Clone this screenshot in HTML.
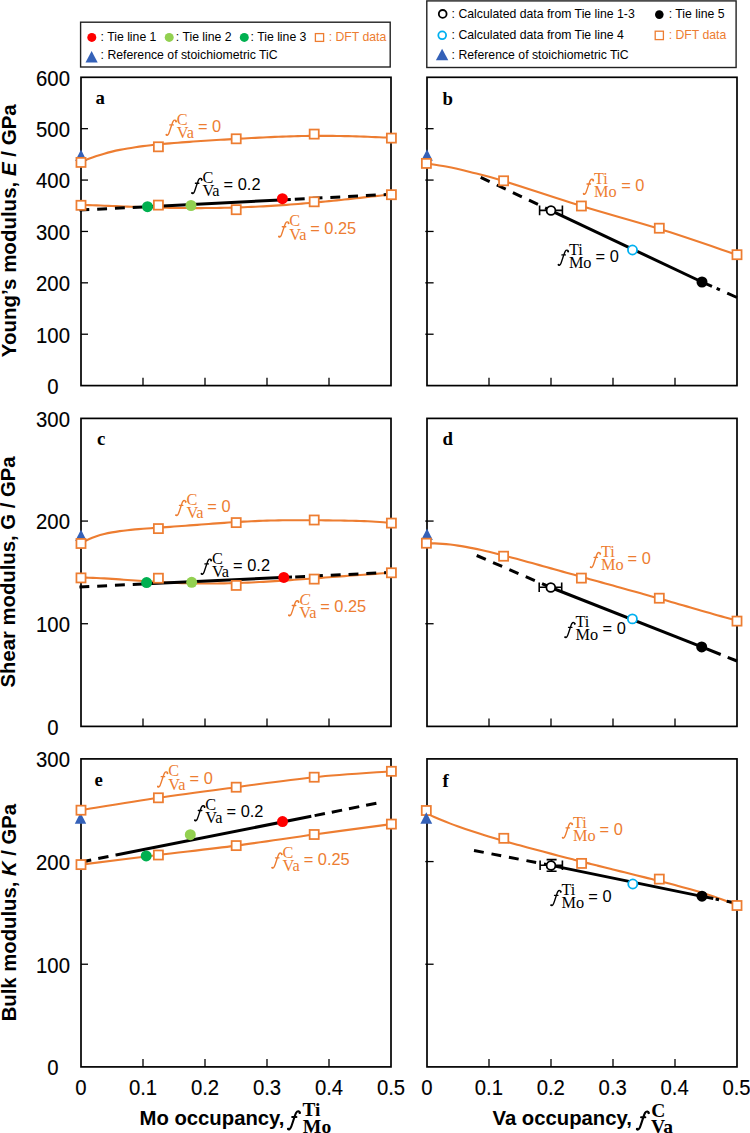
<!DOCTYPE html>
<html><head><meta charset="utf-8"><style>
html,body{margin:0;padding:0;background:#fff;}
svg{display:block;}
.tk{stroke:#000;stroke-width:1.3;}
.fr{fill:none;stroke:#000;stroke-width:1.7;}
.sq{fill:#fff;stroke:#ED7D31;stroke-width:1.75;}
.oc{fill:none;stroke:#ED7D31;stroke-width:2.1;}
.bl{stroke:#000;stroke-width:3;fill:none;}
.dash{stroke-dasharray:9.9 7.9;}
.eb{stroke:#000;stroke-width:1.6;fill:none;}
text{font-family:"Liberation Sans",sans-serif;}
.fi{font-family:"Liberation Serif",serif;font-style:italic;}
.se{font-family:"Liberation Serif",serif;}
.sa{font-family:"Liberation Sans",sans-serif;}
.tl{font-size:20.3px;text-anchor:middle;stroke:#000;stroke-width:0.12px;}
.pl{font-family:"Liberation Serif",serif;font-weight:bold;font-size:18.8px;}
.lg{font-size:12.25px;}
.ax{font-weight:bold;font-size:20.3px;}
</style></head><body>
<svg width="750" height="1133" viewBox="0 0 750 1133">

<rect x="80.6" y="22.2" width="309.6" height="44.8" fill="#fff" stroke="#222" stroke-width="1.4"/>
<circle cx="91.8" cy="37.4" r="4.5" fill="#FF0000"/>
<text x="100.6" y="41.3" class="lg">: Tie line 1</text>
<circle cx="169.2" cy="37.4" r="4.5" fill="#92D050"/>
<text x="175.8" y="41.3" class="lg">: Tie line 2</text>
<circle cx="244.3" cy="37.4" r="4.5" fill="#00B050"/>
<text x="250.6" y="41.3" class="lg">: Tie line 3</text>
<rect x="315.4" y="33.6" width="8.2" height="7.8" fill="#fff" stroke="#ED7D31" stroke-width="1.3"/>
<text x="328.7" y="41.3" class="lg" fill="#ED7D31">: DFT data</text>
<path d="M91.6,50.9 L97.7,62.4 L85.5,62.4 Z" fill="#3461B8"/>
<text x="100.6" y="59.4" class="lg">: Reference of stoichiometric TiC</text>
<rect x="426.8" y="0.9" width="309.3" height="66.6" fill="#fff" stroke="#222" stroke-width="1.4"/>
<circle cx="442.7" cy="13.9" r="3.9" fill="#fff" stroke="#000" stroke-width="1.8"/>
<text x="451.6" y="18.3" class="lg">: Calculated data from Tie line 1-3</text>
<circle cx="659.3" cy="14.6" r="4.3" fill="#000"/>
<text x="668.7" y="18.3" class="lg">: Tie line 5</text>
<circle cx="442.2" cy="35.3" r="3.9" fill="#fff" stroke="#00B0F0" stroke-width="1.8"/>
<text x="451.6" y="38.9" class="lg">: Calculated data from Tie line 4</text>
<rect x="655.2" y="31.2" width="8.2" height="8.4" fill="#fff" stroke="#ED7D31" stroke-width="1.3"/>
<text x="668.7" y="38.9" class="lg" fill="#ED7D31">: DFT data</text>
<path d="M442.1,48.8 L448.3,60.2 L435.9,60.2 Z" fill="#3461B8"/>
<text x="451.6" y="59.3" class="lg">: Reference of stoichiometric TiC</text>
<line x1="81" y1="334.22" x2="88" y2="334.22" class="tk"/>
<line x1="81" y1="282.83" x2="88" y2="282.83" class="tk"/>
<line x1="81" y1="231.45" x2="88" y2="231.45" class="tk"/>
<line x1="81" y1="180.07" x2="88" y2="180.07" class="tk"/>
<line x1="81" y1="128.68" x2="88" y2="128.68" class="tk"/>
<line x1="143" y1="385.6" x2="143" y2="377.8" class="tk"/>
<line x1="205" y1="385.6" x2="205" y2="377.8" class="tk"/>
<line x1="267" y1="385.6" x2="267" y2="377.8" class="tk"/>
<line x1="329" y1="385.6" x2="329" y2="377.8" class="tk"/>
<rect x="81" y="77.3" width="310" height="308.3" class="fr"/>
<line x1="425.3" y1="334.22" x2="433.6" y2="334.22" class="tk"/>
<line x1="425.3" y1="282.83" x2="433.6" y2="282.83" class="tk"/>
<line x1="425.3" y1="231.45" x2="433.6" y2="231.45" class="tk"/>
<line x1="425.3" y1="180.07" x2="433.6" y2="180.07" class="tk"/>
<line x1="425.3" y1="128.68" x2="433.6" y2="128.68" class="tk"/>
<line x1="489" y1="385.6" x2="489" y2="377.8" class="tk"/>
<line x1="551" y1="385.6" x2="551" y2="377.8" class="tk"/>
<line x1="613" y1="385.6" x2="613" y2="377.8" class="tk"/>
<line x1="675" y1="385.6" x2="675" y2="377.8" class="tk"/>
<rect x="427" y="77.3" width="310" height="308.3" class="fr"/>
<text transform="translate(53,394) scale(1,1.06)" class="tl">0</text>
<text transform="translate(53,342.62) scale(1,1.06)" class="tl">100</text>
<text transform="translate(53,291.23) scale(1,1.06)" class="tl">200</text>
<text transform="translate(53,239.85) scale(1,1.06)" class="tl">300</text>
<text transform="translate(53,188.47) scale(1,1.06)" class="tl">400</text>
<text transform="translate(53,137.08) scale(1,1.06)" class="tl">500</text>
<text transform="translate(53,85.7) scale(1,1.06)" class="tl">600</text>
<line x1="81" y1="623.73" x2="88" y2="623.73" class="tk"/>
<line x1="81" y1="521.07" x2="88" y2="521.07" class="tk"/>
<line x1="143" y1="726.4" x2="143" y2="718.6" class="tk"/>
<line x1="205" y1="726.4" x2="205" y2="718.6" class="tk"/>
<line x1="267" y1="726.4" x2="267" y2="718.6" class="tk"/>
<line x1="329" y1="726.4" x2="329" y2="718.6" class="tk"/>
<rect x="81" y="418.4" width="310" height="308" class="fr"/>
<line x1="425.3" y1="623.73" x2="433.6" y2="623.73" class="tk"/>
<line x1="425.3" y1="521.07" x2="433.6" y2="521.07" class="tk"/>
<line x1="489" y1="726.4" x2="489" y2="718.6" class="tk"/>
<line x1="551" y1="726.4" x2="551" y2="718.6" class="tk"/>
<line x1="613" y1="726.4" x2="613" y2="718.6" class="tk"/>
<line x1="675" y1="726.4" x2="675" y2="718.6" class="tk"/>
<rect x="427" y="418.4" width="310" height="308" class="fr"/>
<text transform="translate(53,734.8) scale(1,1.06)" class="tl">0</text>
<text transform="translate(53,632.13) scale(1,1.06)" class="tl">100</text>
<text transform="translate(53,529.47) scale(1,1.06)" class="tl">200</text>
<text transform="translate(53,426.8) scale(1,1.06)" class="tl">300</text>
<line x1="81" y1="964.23" x2="88" y2="964.23" class="tk"/>
<line x1="81" y1="861.57" x2="88" y2="861.57" class="tk"/>
<line x1="143" y1="1066.9" x2="143" y2="1059.1" class="tk"/>
<line x1="205" y1="1066.9" x2="205" y2="1059.1" class="tk"/>
<line x1="267" y1="1066.9" x2="267" y2="1059.1" class="tk"/>
<line x1="329" y1="1066.9" x2="329" y2="1059.1" class="tk"/>
<rect x="81" y="758.9" width="310" height="308" class="fr"/>
<line x1="425.3" y1="964.23" x2="433.6" y2="964.23" class="tk"/>
<line x1="425.3" y1="861.57" x2="433.6" y2="861.57" class="tk"/>
<line x1="489" y1="1066.9" x2="489" y2="1059.1" class="tk"/>
<line x1="551" y1="1066.9" x2="551" y2="1059.1" class="tk"/>
<line x1="613" y1="1066.9" x2="613" y2="1059.1" class="tk"/>
<line x1="675" y1="1066.9" x2="675" y2="1059.1" class="tk"/>
<rect x="427" y="758.9" width="310" height="308" class="fr"/>
<text transform="translate(53,1075.3) scale(1,1.06)" class="tl">0</text>
<text transform="translate(53,972.63) scale(1,1.06)" class="tl">100</text>
<text transform="translate(53,869.97) scale(1,1.06)" class="tl">200</text>
<text transform="translate(53,767.3) scale(1,1.06)" class="tl">300</text>
<text transform="translate(81,1095.2) scale(1,1.06)" class="tl">0</text>
<text transform="translate(427,1095.2) scale(1,1.06)" class="tl">0</text>
<text transform="translate(143,1095.2) scale(1,1.06)" class="tl">0.1</text>
<text transform="translate(488.9,1095.2) scale(1,1.06)" class="tl">0.1</text>
<text transform="translate(205,1095.2) scale(1,1.06)" class="tl">0.2</text>
<text transform="translate(550.8,1095.2) scale(1,1.06)" class="tl">0.2</text>
<text transform="translate(267,1095.2) scale(1,1.06)" class="tl">0.3</text>
<text transform="translate(612.7,1095.2) scale(1,1.06)" class="tl">0.3</text>
<text transform="translate(329,1095.2) scale(1,1.06)" class="tl">0.4</text>
<text transform="translate(674.6,1095.2) scale(1,1.06)" class="tl">0.4</text>
<text transform="translate(391,1095.2) scale(1,1.06)" class="tl">0.5</text>
<text transform="translate(736.5,1095.2) scale(1,1.06)" class="tl">0.5</text>
<text x="95.5" y="103.5" class="pl">a</text>
<text x="442.5" y="104.8" class="pl">b</text>
<text x="97" y="444.5" class="pl">c</text>
<text x="442.5" y="444.9" class="pl">d</text>
<text x="94.5" y="785.6" class="pl">e</text>
<text x="442.5" y="786.5" class="pl">f</text>
<text transform="translate(16.2,230.7) rotate(-90)" text-anchor="middle" class="ax" style="font-size:20.5px">Young’s modulus, <tspan font-style="italic">E</tspan> / GPa</text>
<text transform="translate(15.3,572) rotate(-90)" text-anchor="middle" class="ax">Shear modulus, G / GPa</text>
<text transform="translate(15.9,912.6) rotate(-90)" text-anchor="middle" class="ax">Bulk modulus, <tspan font-style="italic">K</tspan> / GPa</text>
<text x="139.5" y="1125" class="ax">Mo occupancy,</text>
<g transform="translate(287.4,1125.3) scale(1.2)"><path d="M10.3,-10.4 C10.3,-11.7 8.5,-12.4 7.3,-10.5 C6.3,-8.8 4.3,-1.6 3.0,1.6 C2.3,3.3 1.1,3.9 0.5,3.0 M4.0,-6.9 H7.5" fill="none" stroke="#000" stroke-width="1.75" stroke-linecap="round"/><circle cx="10.25" cy="-10.35" r="0.95" fill="#000"/><circle cx="0.7" cy="2.85" r="0.9" fill="#000"/></g>
<text x="302.6" y="1116.2" style="font-family:'Liberation Serif',serif;font-weight:bold;font-size:19.3px">Ti</text>
<text x="302.8" y="1132.8" style="font-family:'Liberation Serif',serif;font-weight:bold;font-size:19.7px">Mo</text>
<text x="492.5" y="1125" class="ax">Va occupancy,</text>
<g transform="translate(636.3,1125.5) scale(1.2)"><path d="M10.3,-10.4 C10.3,-11.7 8.5,-12.4 7.3,-10.5 C6.3,-8.8 4.3,-1.6 3.0,1.6 C2.3,3.3 1.1,3.9 0.5,3.0 M4.0,-6.9 H7.5" fill="none" stroke="#000" stroke-width="1.75" stroke-linecap="round"/><circle cx="10.25" cy="-10.35" r="0.95" fill="#000"/><circle cx="0.7" cy="2.85" r="0.9" fill="#000"/></g>
<text x="651.2" y="1116.7" style="font-family:'Liberation Serif',serif;font-weight:bold;font-size:19.5px">C</text>
<text x="651" y="1133" style="font-family:'Liberation Serif',serif;font-weight:bold;font-size:19.5px">Va</text>
<path d="M81,162.08 C82.29,161.54 86.17,159.83 88.75,158.82 C91.33,157.81 93.92,156.89 96.5,156.02 C99.08,155.16 101.67,154.38 104.25,153.64 C106.83,152.91 109.42,152.25 112,151.62 C114.58,151 117.17,150.43 119.75,149.9 C122.33,149.37 124.92,148.89 127.5,148.43 C130.08,147.98 132.67,147.57 135.25,147.18 C137.83,146.8 140.42,146.44 143,146.11 C145.58,145.77 148.17,145.47 150.75,145.18 C153.33,144.89 155.92,144.62 158.5,144.36 C161.08,144.1 163.67,143.87 166.25,143.64 C168.83,143.41 171.42,143.19 174,142.98 C176.58,142.78 179.17,142.58 181.75,142.38 C184.33,142.19 186.92,142.01 189.5,141.83 C192.08,141.64 194.67,141.47 197.25,141.3 C199.83,141.12 202.42,140.95 205,140.79 C207.58,140.62 210.17,140.46 212.75,140.29 C215.33,140.13 217.92,139.97 220.5,139.82 C223.08,139.66 225.67,139.5 228.25,139.35 C230.83,139.19 233.42,139.04 236,138.89 C238.58,138.74 241.17,138.6 243.75,138.45 C246.33,138.31 248.92,138.17 251.5,138.03 C254.08,137.89 256.67,137.76 259.25,137.63 C261.83,137.5 264.42,137.37 267,137.25 C269.58,137.13 272.17,137.02 274.75,136.91 C277.33,136.8 279.92,136.7 282.5,136.61 C285.08,136.51 287.67,136.42 290.25,136.35 C292.83,136.27 295.42,136.2 298,136.13 C300.58,136.07 303.17,136.02 305.75,135.98 C308.33,135.93 310.92,135.9 313.5,135.87 C316.08,135.85 318.67,135.84 321.25,135.83 C323.83,135.83 326.42,135.84 329,135.85 C331.58,135.87 334.17,135.9 336.75,135.93 C339.33,135.97 341.92,136.02 344.5,136.08 C347.08,136.13 349.67,136.2 352.25,136.27 C354.83,136.35 357.42,136.43 360,136.52 C362.58,136.61 365.17,136.71 367.75,136.81 C370.33,136.91 372.92,137.01 375.5,137.12 C378.08,137.23 380.67,137.34 383.25,137.45 C385.83,137.56 389.71,137.72 391,137.77" class="oc"/>
<path d="M81,204.83 C82.29,204.87 86.17,205.01 88.75,205.1 C91.33,205.2 93.92,205.3 96.5,205.4 C99.08,205.5 101.67,205.6 104.25,205.7 C106.83,205.8 109.42,205.9 112,206 C114.58,206.11 117.17,206.21 119.75,206.31 C122.33,206.4 124.92,206.5 127.5,206.6 C130.08,206.69 132.67,206.79 135.25,206.88 C137.83,206.97 140.42,207.05 143,207.14 C145.58,207.22 148.17,207.3 150.75,207.37 C153.33,207.45 155.92,207.52 158.5,207.58 C161.08,207.65 163.67,207.71 166.25,207.76 C168.83,207.81 171.42,207.86 174,207.9 C176.58,207.94 179.17,207.98 181.75,208.01 C184.33,208.04 186.92,208.06 189.5,208.07 C192.08,208.09 194.67,208.09 197.25,208.09 C199.83,208.09 202.42,208.09 205,208.07 C207.58,208.05 210.17,208.03 212.75,208 C215.33,207.97 217.92,207.93 220.5,207.88 C223.08,207.83 225.67,207.78 228.25,207.71 C230.83,207.65 233.42,207.58 236,207.5 C238.58,207.41 241.17,207.32 243.75,207.23 C246.33,207.13 248.92,207.02 251.5,206.91 C254.08,206.79 256.67,206.67 259.25,206.54 C261.83,206.4 264.42,206.26 267,206.12 C269.58,205.97 272.17,205.81 274.75,205.65 C277.33,205.48 279.92,205.31 282.5,205.13 C285.08,204.95 287.67,204.76 290.25,204.57 C292.83,204.37 295.42,204.17 298,203.96 C300.58,203.75 303.17,203.53 305.75,203.31 C308.33,203.09 310.92,202.86 313.5,202.62 C316.08,202.38 318.67,202.14 321.25,201.89 C323.83,201.65 326.42,201.39 329,201.13 C331.58,200.88 334.17,200.61 336.75,200.35 C339.33,200.08 341.92,199.81 344.5,199.53 C347.08,199.26 349.67,198.98 352.25,198.7 C354.83,198.41 357.42,198.13 360,197.84 C362.58,197.56 365.17,197.27 367.75,196.98 C370.33,196.69 372.92,196.4 375.5,196.11 C378.08,195.82 380.67,195.52 383.25,195.23 C385.83,194.94 389.71,194.51 391,194.37" class="oc"/>
<line x1="79.4" y1="210.08" x2="147.5" y2="206.64" class="bl dash"/>
<line x1="147.5" y1="206.64" x2="290.8" y2="199.41" class="bl"/>
<line x1="290.8" y1="199.41" x2="391" y2="194.35" class="bl dash" style="stroke-dashoffset:13.8;"/>
<path d="M81,149.5 L86.8,161 L75.2,161 Z" fill="#3461B8"/>
<rect x="76.45" y="157.85" width="9.1" height="9.1" class="sq"/>
<rect x="153.85" y="142.25" width="9.1" height="9.1" class="sq"/>
<rect x="231.65" y="134.25" width="9.1" height="9.1" class="sq"/>
<rect x="309.65" y="129.55" width="9.1" height="9.1" class="sq"/>
<rect x="386.85" y="133.55" width="9.1" height="9.1" class="sq"/>
<rect x="76.45" y="200.75" width="9.1" height="9.1" class="sq"/>
<rect x="153.85" y="200.55" width="9.1" height="9.1" class="sq"/>
<rect x="231.65" y="205.15" width="9.1" height="9.1" class="sq"/>
<rect x="309.65" y="197.25" width="9.1" height="9.1" class="sq"/>
<rect x="386.85" y="190.15" width="9.1" height="9.1" class="sq"/>
<circle cx="147.5" cy="206.7" r="5.5" fill="#00B050"/>
<circle cx="191" cy="205.5" r="5.5" fill="#92D050"/>
<circle cx="282.4" cy="198.7" r="5.5" fill="#FF0000"/>
<g transform="translate(165.8,131.8) scale(1)"><path d="M10.3,-10.4 C10.3,-11.7 8.5,-12.4 7.3,-10.5 C6.3,-8.8 4.3,-1.6 3.0,1.6 C2.3,3.3 1.1,3.9 0.5,3.0 M4.0,-6.9 H7.5" fill="none" stroke="#ED7D31" stroke-width="1.35" stroke-linecap="round"/><circle cx="10.25" cy="-10.35" r="0.95" fill="#ED7D31"/><circle cx="0.7" cy="2.85" r="0.9" fill="#ED7D31"/></g>
<g fill="#ED7D31">
<text x="176.8" y="124.6" class="se" style="font-size:16.3px">C</text>
<text x="176.8" y="137.8" class="se" style="font-size:16.3px">Va</text>
<text x="197.9" y="131.8" class="sa" style="font-size:16.4px">= 0</text>
</g>
<g transform="translate(191.4,190.1) scale(1)"><path d="M10.3,-10.4 C10.3,-11.7 8.5,-12.4 7.3,-10.5 C6.3,-8.8 4.3,-1.6 3.0,1.6 C2.3,3.3 1.1,3.9 0.5,3.0 M4.0,-6.9 H7.5" fill="none" stroke="#000" stroke-width="1.35" stroke-linecap="round"/><circle cx="10.25" cy="-10.35" r="0.95" fill="#000"/><circle cx="0.7" cy="2.85" r="0.9" fill="#000"/></g>
<g fill="#000">
<text x="202.4" y="182.9" class="se" style="font-size:16.3px">C</text>
<text x="202.4" y="196.1" class="se" style="font-size:16.3px">Va</text>
<text x="223.6" y="190.1" class="sa" style="font-size:16.4px">= 0.2</text>
</g>
<g transform="translate(278.3,233.6) scale(1)"><path d="M10.3,-10.4 C10.3,-11.7 8.5,-12.4 7.3,-10.5 C6.3,-8.8 4.3,-1.6 3.0,1.6 C2.3,3.3 1.1,3.9 0.5,3.0 M4.0,-6.9 H7.5" fill="none" stroke="#ED7D31" stroke-width="1.35" stroke-linecap="round"/><circle cx="10.25" cy="-10.35" r="0.95" fill="#ED7D31"/><circle cx="0.7" cy="2.85" r="0.9" fill="#ED7D31"/></g>
<g fill="#ED7D31">
<text x="289.3" y="226.4" class="se" style="font-size:16.3px">C</text>
<text x="289.3" y="239.6" class="se" style="font-size:16.3px">Va</text>
<text x="310.2" y="233.6" class="sa" style="font-size:16.4px">= 0.25</text>
</g>
<path d="M426.4,163.4 C429.67,163.92 438.73,165.07 446,166.5 C453.27,167.93 460.4,169.58 470,172 C479.6,174.42 485.03,175.33 503.6,181 C522.17,186.67 555.45,198.03 581.4,206 C607.35,213.97 633.37,220.67 659.3,228.8 C685.23,236.93 724.05,250.47 737,254.8" class="oc"/>
<line x1="480.7" y1="177.4" x2="551" y2="210.6" class="bl dash"/>
<line x1="551" y1="210.6" x2="702" y2="282" class="bl"/>
<line x1="702" y1="282" x2="737" y2="297.5" class="bl dash" style="stroke-dasharray:10.9 5.1 3.6 8 30;"/>
<path d="M427,149.2 L432.8,160.7 L421.2,160.7 Z" fill="#3461B8"/>
<rect x="421.85" y="158.85" width="9.1" height="9.1" class="sq"/>
<rect x="499.05" y="176.25" width="9.1" height="9.1" class="sq"/>
<rect x="576.85" y="201.45" width="9.1" height="9.1" class="sq"/>
<rect x="654.75" y="223.65" width="9.1" height="9.1" class="sq"/>
<rect x="732.45" y="250.15" width="9.1" height="9.1" class="sq"/>
<path d="M539.6,210.4 H562.4 M539.6,205.6 V215.2 M562.4,205.6 V215.2" class="eb"/>
<circle cx="551" cy="210.5" r="4.4" fill="#fff" stroke="#000" stroke-width="1.75"/>
<circle cx="632.5" cy="250" r="4.55" fill="#fff" stroke="#00B0F0" stroke-width="1.8"/>
<circle cx="702" cy="282" r="5.5" fill="#000"/>
<g transform="translate(583,190.9) scale(1)"><path d="M10.3,-10.4 C10.3,-11.7 8.5,-12.4 7.3,-10.5 C6.3,-8.8 4.3,-1.6 3.0,1.6 C2.3,3.3 1.1,3.9 0.5,3.0 M4.0,-6.9 H7.5" fill="none" stroke="#ED7D31" stroke-width="1.35" stroke-linecap="round"/><circle cx="10.25" cy="-10.35" r="0.95" fill="#ED7D31"/><circle cx="0.7" cy="2.85" r="0.9" fill="#ED7D31"/></g>
<g fill="#ED7D31">
<text x="594" y="183.7" class="se" style="font-size:16.3px">Ti</text>
<text x="594" y="196.9" class="se" style="font-size:16.3px">Mo</text>
<text x="621.2" y="190.9" class="sa" style="font-size:16.4px">= 0</text>
</g>
<g transform="translate(557.9,261.8) scale(1)"><path d="M10.3,-10.4 C10.3,-11.7 8.5,-12.4 7.3,-10.5 C6.3,-8.8 4.3,-1.6 3.0,1.6 C2.3,3.3 1.1,3.9 0.5,3.0 M4.0,-6.9 H7.5" fill="none" stroke="#000" stroke-width="1.35" stroke-linecap="round"/><circle cx="10.25" cy="-10.35" r="0.95" fill="#000"/><circle cx="0.7" cy="2.85" r="0.9" fill="#000"/></g>
<g fill="#000">
<text x="568.9" y="254.6" class="se" style="font-size:16.3px">Ti</text>
<text x="568.9" y="267.8" class="se" style="font-size:16.3px">Mo</text>
<text x="595.6" y="261.8" class="sa" style="font-size:16.4px">= 0</text>
</g>
<path d="M81,543.01 C82.29,542.37 86.17,540.3 88.75,539.17 C91.33,538.04 93.92,537.11 96.5,536.25 C99.08,535.4 101.67,534.69 104.25,534.05 C106.83,533.41 109.42,532.88 112,532.39 C114.58,531.91 117.17,531.51 119.75,531.14 C122.33,530.77 124.92,530.46 127.5,530.17 C130.08,529.88 132.67,529.64 135.25,529.4 C137.83,529.17 140.42,528.96 143,528.76 C145.58,528.55 148.17,528.37 150.75,528.18 C153.33,528 155.92,527.82 158.5,527.64 C161.08,527.46 163.67,527.28 166.25,527.1 C168.83,526.92 171.42,526.74 174,526.56 C176.58,526.37 179.17,526.19 181.75,526 C184.33,525.81 186.92,525.61 189.5,525.42 C192.08,525.22 194.67,525.03 197.25,524.83 C199.83,524.63 202.42,524.44 205,524.24 C207.58,524.04 210.17,523.85 212.75,523.66 C215.33,523.47 217.92,523.28 220.5,523.09 C223.08,522.91 225.67,522.73 228.25,522.56 C230.83,522.39 233.42,522.22 236,522.07 C238.58,521.91 241.17,521.76 243.75,521.63 C246.33,521.49 248.92,521.36 251.5,521.24 C254.08,521.12 256.67,521.01 259.25,520.92 C261.83,520.82 264.42,520.73 267,520.66 C269.58,520.58 272.17,520.52 274.75,520.46 C277.33,520.4 279.92,520.36 282.5,520.32 C285.08,520.28 287.67,520.26 290.25,520.24 C292.83,520.22 295.42,520.21 298,520.2 C300.58,520.19 303.17,520.2 305.75,520.2 C308.33,520.21 310.92,520.22 313.5,520.24 C316.08,520.25 318.67,520.28 321.25,520.3 C323.83,520.32 326.42,520.35 329,520.38 C331.58,520.41 334.17,520.44 336.75,520.48 C339.33,520.52 341.92,520.56 344.5,520.61 C347.08,520.65 349.67,520.7 352.25,520.76 C354.83,520.83 357.42,520.89 360,520.98 C362.58,521.06 365.17,521.15 367.75,521.27 C370.33,521.39 372.92,521.52 375.5,521.69 C378.08,521.87 380.67,522.06 383.25,522.3 C385.83,522.55 389.71,523.02 391,523.17" class="oc"/>
<path d="M81,577.52 C82.29,577.55 86.17,577.61 88.75,577.69 C91.33,577.77 93.92,577.88 96.5,578 C99.08,578.12 101.67,578.26 104.25,578.41 C106.83,578.56 109.42,578.72 112,578.89 C114.58,579.06 117.17,579.24 119.75,579.42 C122.33,579.6 124.92,579.78 127.5,579.97 C130.08,580.15 132.67,580.34 135.25,580.52 C137.83,580.7 140.42,580.88 143,581.06 C145.58,581.23 148.17,581.4 150.75,581.57 C153.33,581.73 155.92,581.89 158.5,582.03 C161.08,582.18 163.67,582.32 166.25,582.45 C168.83,582.58 171.42,582.69 174,582.8 C176.58,582.91 179.17,583 181.75,583.09 C184.33,583.17 186.92,583.24 189.5,583.3 C192.08,583.36 194.67,583.41 197.25,583.44 C199.83,583.48 202.42,583.5 205,583.51 C207.58,583.52 210.17,583.52 212.75,583.5 C215.33,583.49 217.92,583.46 220.5,583.42 C223.08,583.38 225.67,583.33 228.25,583.27 C230.83,583.21 233.42,583.14 236,583.05 C238.58,582.97 241.17,582.88 243.75,582.77 C246.33,582.67 248.92,582.56 251.5,582.44 C254.08,582.32 256.67,582.19 259.25,582.05 C261.83,581.91 264.42,581.77 267,581.62 C269.58,581.46 272.17,581.31 274.75,581.14 C277.33,580.98 279.92,580.81 282.5,580.64 C285.08,580.46 287.67,580.29 290.25,580.11 C292.83,579.93 295.42,579.74 298,579.55 C300.58,579.37 303.17,579.18 305.75,578.99 C308.33,578.8 310.92,578.61 313.5,578.41 C316.08,578.22 318.67,578.03 321.25,577.83 C323.83,577.64 326.42,577.45 329,577.26 C331.58,577.06 334.17,576.87 336.75,576.68 C339.33,576.49 341.92,576.3 344.5,576.11 C347.08,575.92 349.67,575.73 352.25,575.54 C354.83,575.35 357.42,575.16 360,574.98 C362.58,574.79 365.17,574.6 367.75,574.42 C370.33,574.23 372.92,574.04 375.5,573.85 C378.08,573.66 380.67,573.48 383.25,573.28 C385.83,573.09 389.71,572.8 391,572.7" class="oc"/>
<line x1="79.4" y1="586.97" x2="146.6" y2="583.83" class="bl dash"/>
<line x1="146.6" y1="583.83" x2="292" y2="577.03" class="bl"/>
<line x1="292" y1="577.03" x2="391" y2="572.4" class="bl dash" style="stroke-dashoffset:14.6;"/>
<path d="M81,529.6 L86.8,541.1 L75.2,541.1 Z" fill="#3461B8"/>
<rect x="76.45" y="538.95" width="9.1" height="9.1" class="sq"/>
<rect x="153.85" y="524.05" width="9.1" height="9.1" class="sq"/>
<rect x="231.65" y="518.05" width="9.1" height="9.1" class="sq"/>
<rect x="309.65" y="515.45" width="9.1" height="9.1" class="sq"/>
<rect x="386.85" y="518.55" width="9.1" height="9.1" class="sq"/>
<rect x="76.45" y="573.35" width="9.1" height="9.1" class="sq"/>
<rect x="153.85" y="573.65" width="9.1" height="9.1" class="sq"/>
<rect x="231.65" y="580.85" width="9.1" height="9.1" class="sq"/>
<rect x="309.65" y="574.55" width="9.1" height="9.1" class="sq"/>
<rect x="386.85" y="568.25" width="9.1" height="9.1" class="sq"/>
<circle cx="146.6" cy="582.6" r="5.5" fill="#00B050"/>
<circle cx="191.7" cy="582.3" r="5.5" fill="#92D050"/>
<circle cx="283.8" cy="577.4" r="5.5" fill="#FF0000"/>
<g transform="translate(175.4,512.2) scale(1)"><path d="M10.3,-10.4 C10.3,-11.7 8.5,-12.4 7.3,-10.5 C6.3,-8.8 4.3,-1.6 3.0,1.6 C2.3,3.3 1.1,3.9 0.5,3.0 M4.0,-6.9 H7.5" fill="none" stroke="#ED7D31" stroke-width="1.35" stroke-linecap="round"/><circle cx="10.25" cy="-10.35" r="0.95" fill="#ED7D31"/><circle cx="0.7" cy="2.85" r="0.9" fill="#ED7D31"/></g>
<g fill="#ED7D31">
<text x="186.4" y="505" class="se" style="font-size:16.3px">C</text>
<text x="186.4" y="518.2" class="se" style="font-size:16.3px">Va</text>
<text x="207.3" y="512.2" class="sa" style="font-size:16.4px">= 0</text>
</g>
<g transform="translate(200.9,570.8) scale(1)"><path d="M10.3,-10.4 C10.3,-11.7 8.5,-12.4 7.3,-10.5 C6.3,-8.8 4.3,-1.6 3.0,1.6 C2.3,3.3 1.1,3.9 0.5,3.0 M4.0,-6.9 H7.5" fill="none" stroke="#000" stroke-width="1.35" stroke-linecap="round"/><circle cx="10.25" cy="-10.35" r="0.95" fill="#000"/><circle cx="0.7" cy="2.85" r="0.9" fill="#000"/></g>
<g fill="#000">
<text x="211.9" y="563.6" class="se" style="font-size:16.3px">C</text>
<text x="211.9" y="576.8" class="se" style="font-size:16.3px">Va</text>
<text x="233.1" y="570.8" class="sa" style="font-size:16.4px">= 0.2</text>
</g>
<g transform="translate(288.3,612.4) scale(1)"><path d="M10.3,-10.4 C10.3,-11.7 8.5,-12.4 7.3,-10.5 C6.3,-8.8 4.3,-1.6 3.0,1.6 C2.3,3.3 1.1,3.9 0.5,3.0 M4.0,-6.9 H7.5" fill="none" stroke="#ED7D31" stroke-width="1.35" stroke-linecap="round"/><circle cx="10.25" cy="-10.35" r="0.95" fill="#ED7D31"/><circle cx="0.7" cy="2.85" r="0.9" fill="#ED7D31"/></g>
<g fill="#ED7D31">
<text x="299.3" y="605.2" class="se" style="font-style:italic;font-size:16.3px">C</text>
<text x="299.3" y="618.4" class="se" style="font-size:16.3px">Va</text>
<text x="320.2" y="612.4" class="sa" style="font-size:16.4px">= 0.25</text>
</g>
<path d="M427,543.36 C428.29,543.36 432.17,543.32 434.75,543.4 C437.33,543.48 439.92,543.63 442.5,543.83 C445.08,544.03 447.67,544.29 450.25,544.58 C452.83,544.88 455.42,545.23 458,545.62 C460.58,546 463.17,546.44 465.75,546.89 C468.33,547.35 470.92,547.85 473.5,548.37 C476.08,548.89 478.67,549.44 481.25,550.01 C483.83,550.58 486.42,551.18 489,551.79 C491.58,552.4 494.17,553.03 496.75,553.68 C499.33,554.32 501.92,554.98 504.5,555.65 C507.08,556.32 509.67,557 512.25,557.69 C514.83,558.38 517.42,559.08 520,559.78 C522.58,560.48 525.17,561.19 527.75,561.9 C530.33,562.61 532.92,563.33 535.5,564.05 C538.08,564.77 540.67,565.49 543.25,566.21 C545.83,566.93 548.42,567.65 551,568.37 C553.58,569.1 556.17,569.82 558.75,570.54 C561.33,571.26 563.92,571.98 566.5,572.7 C569.08,573.42 571.67,574.14 574.25,574.86 C576.83,575.58 579.42,576.3 582,577.02 C584.58,577.73 587.17,578.45 589.75,579.16 C592.33,579.88 594.92,580.59 597.5,581.31 C600.08,582.02 602.67,582.74 605.25,583.45 C607.83,584.16 610.42,584.88 613,585.59 C615.58,586.31 618.17,587.02 620.75,587.74 C623.33,588.45 625.92,589.17 628.5,589.89 C631.08,590.61 633.67,591.33 636.25,592.05 C638.83,592.77 641.42,593.49 644,594.22 C646.58,594.94 649.17,595.67 651.75,596.4 C654.33,597.13 656.92,597.86 659.5,598.6 C662.08,599.33 664.67,600.07 667.25,600.81 C669.83,601.55 672.42,602.29 675,603.03 C677.58,603.77 680.17,604.52 682.75,605.26 C685.33,606.01 687.92,606.75 690.5,607.5 C693.08,608.25 695.67,609 698.25,609.74 C700.83,610.49 703.42,611.23 706,611.97 C708.58,612.71 711.17,613.45 713.75,614.19 C716.33,614.92 718.92,615.65 721.5,616.37 C724.08,617.09 726.67,617.81 729.25,618.51 C731.83,619.21 735.71,620.24 737,620.59" class="oc"/>
<line x1="476.7" y1="555.5" x2="550.8" y2="587.5" class="bl dash"/>
<line x1="550.8" y1="587.5" x2="701.7" y2="646.9" class="bl"/>
<line x1="701.7" y1="646.9" x2="737" y2="661" class="bl dash" style="stroke-dasharray:20.5 7.5 30;"/>
<path d="M427,528.6 L432.8,540.1 L421.2,540.1 Z" fill="#3461B8"/>
<rect x="421.85" y="538.65" width="9.1" height="9.1" class="sq"/>
<rect x="499.05" y="551.65" width="9.1" height="9.1" class="sq"/>
<rect x="576.85" y="573.55" width="9.1" height="9.1" class="sq"/>
<rect x="654.75" y="593.65" width="9.1" height="9.1" class="sq"/>
<rect x="732.45" y="616.55" width="9.1" height="9.1" class="sq"/>
<path d="M539.2,587.3 H561.7 M539.2,582.5 V592.1 M561.7,582.5 V592.1" class="eb"/>
<circle cx="550.8" cy="587.5" r="4.4" fill="#fff" stroke="#000" stroke-width="1.75"/>
<circle cx="632.4" cy="618.9" r="4.55" fill="#fff" stroke="#00B0F0" stroke-width="1.8"/>
<circle cx="701.7" cy="646.9" r="5.5" fill="#000"/>
<g transform="translate(590,564.2) scale(1)"><path d="M10.3,-10.4 C10.3,-11.7 8.5,-12.4 7.3,-10.5 C6.3,-8.8 4.3,-1.6 3.0,1.6 C2.3,3.3 1.1,3.9 0.5,3.0 M4.0,-6.9 H7.5" fill="none" stroke="#ED7D31" stroke-width="1.35" stroke-linecap="round"/><circle cx="10.25" cy="-10.35" r="0.95" fill="#ED7D31"/><circle cx="0.7" cy="2.85" r="0.9" fill="#ED7D31"/></g>
<g fill="#ED7D31">
<text x="601" y="557" class="se" style="font-size:16.3px">Ti</text>
<text x="601" y="570.2" class="se" style="font-size:16.3px">Mo</text>
<text x="627.5" y="564.2" class="sa" style="font-size:16.4px">= 0</text>
</g>
<g transform="translate(564.5,634.2) scale(1)"><path d="M10.3,-10.4 C10.3,-11.7 8.5,-12.4 7.3,-10.5 C6.3,-8.8 4.3,-1.6 3.0,1.6 C2.3,3.3 1.1,3.9 0.5,3.0 M4.0,-6.9 H7.5" fill="none" stroke="#000" stroke-width="1.35" stroke-linecap="round"/><circle cx="10.25" cy="-10.35" r="0.95" fill="#000"/><circle cx="0.7" cy="2.85" r="0.9" fill="#000"/></g>
<g fill="#000">
<text x="575.5" y="627" class="se" style="font-size:16.3px">Ti</text>
<text x="575.5" y="640.2" class="se" style="font-size:16.3px">Mo</text>
<text x="602.5" y="634.2" class="sa" style="font-size:16.4px">= 0</text>
</g>
<path d="M81,810.2 C93.9,808.13 132.53,801.63 158.4,797.8 C184.27,793.97 210.23,790.63 236.2,787.2 C262.17,783.77 288.33,779.85 314.2,777.2 C340.07,774.55 378.53,772.28 391.4,771.3" class="oc"/>
<path d="M81,864.6 C93.9,863 132.53,858.17 158.4,855 C184.27,851.83 210.23,849.02 236.2,845.6 C262.17,842.18 288.33,838.08 314.2,834.5 C340.07,830.92 378.53,825.83 391.4,824.1" class="oc"/>
<line x1="81" y1="861.95" x2="116" y2="855" class="bl dash" style="stroke-dasharray:10.4 7.2;"/>
<line x1="116" y1="855" x2="311.3" y2="816.25" class="bl"/>
<line x1="311.3" y1="816.3" x2="377.3" y2="803" class="bl dash" style="stroke-dasharray:10.5 7;stroke-dashoffset:14.1;"/>
<path d="M80.5,812.4 L86.2,823.8 L74.8,823.8 Z" fill="#3461B8"/>
<rect x="76.45" y="805.65" width="9.1" height="9.1" class="sq"/>
<rect x="153.85" y="793.25" width="9.1" height="9.1" class="sq"/>
<rect x="231.65" y="782.65" width="9.1" height="9.1" class="sq"/>
<rect x="309.65" y="772.65" width="9.1" height="9.1" class="sq"/>
<rect x="386.85" y="766.75" width="9.1" height="9.1" class="sq"/>
<rect x="76.45" y="860.05" width="9.1" height="9.1" class="sq"/>
<rect x="153.85" y="850.45" width="9.1" height="9.1" class="sq"/>
<rect x="231.65" y="841.05" width="9.1" height="9.1" class="sq"/>
<rect x="309.65" y="829.95" width="9.1" height="9.1" class="sq"/>
<rect x="386.85" y="819.55" width="9.1" height="9.1" class="sq"/>
<circle cx="146.2" cy="855.9" r="5.5" fill="#00B050"/>
<circle cx="190.3" cy="834.7" r="5.5" fill="#92D050"/>
<circle cx="282.5" cy="821.6" r="5.5" fill="#FF0000"/>
<g transform="translate(157.2,783.6) scale(1)"><path d="M10.3,-10.4 C10.3,-11.7 8.5,-12.4 7.3,-10.5 C6.3,-8.8 4.3,-1.6 3.0,1.6 C2.3,3.3 1.1,3.9 0.5,3.0 M4.0,-6.9 H7.5" fill="none" stroke="#ED7D31" stroke-width="1.35" stroke-linecap="round"/><circle cx="10.25" cy="-10.35" r="0.95" fill="#ED7D31"/><circle cx="0.7" cy="2.85" r="0.9" fill="#ED7D31"/></g>
<g fill="#ED7D31">
<text x="168.2" y="776.4" class="se" style="font-size:16.3px">C</text>
<text x="168.2" y="789.6" class="se" style="font-size:16.3px">Va</text>
<text x="189.5" y="783.6" class="sa" style="font-size:16.4px">= 0</text>
</g>
<g transform="translate(194.3,817.4) scale(1)"><path d="M10.3,-10.4 C10.3,-11.7 8.5,-12.4 7.3,-10.5 C6.3,-8.8 4.3,-1.6 3.0,1.6 C2.3,3.3 1.1,3.9 0.5,3.0 M4.0,-6.9 H7.5" fill="none" stroke="#000" stroke-width="1.35" stroke-linecap="round"/><circle cx="10.25" cy="-10.35" r="0.95" fill="#000"/><circle cx="0.7" cy="2.85" r="0.9" fill="#000"/></g>
<g fill="#000">
<text x="205.3" y="810.2" class="se" style="font-size:16.3px">C</text>
<text x="205.3" y="823.4" class="se" style="font-size:16.3px">Va</text>
<text x="226.5" y="817.4" class="sa" style="font-size:16.4px">= 0.2</text>
</g>
<g transform="translate(271.5,864.7) scale(1)"><path d="M10.3,-10.4 C10.3,-11.7 8.5,-12.4 7.3,-10.5 C6.3,-8.8 4.3,-1.6 3.0,1.6 C2.3,3.3 1.1,3.9 0.5,3.0 M4.0,-6.9 H7.5" fill="none" stroke="#ED7D31" stroke-width="1.35" stroke-linecap="round"/><circle cx="10.25" cy="-10.35" r="0.95" fill="#ED7D31"/><circle cx="0.7" cy="2.85" r="0.9" fill="#ED7D31"/></g>
<g fill="#ED7D31">
<text x="282.5" y="857.5" class="se" style="font-size:16.3px">C</text>
<text x="282.5" y="870.7" class="se" style="font-size:16.3px">Va</text>
<text x="303.7" y="864.7" class="sa" style="font-size:16.4px">= 0.25</text>
</g>
<path d="M426.5,813.32 C427.79,813.92 431.68,815.78 434.26,816.94 C436.85,818.1 439.44,819.2 442.02,820.28 C444.61,821.35 447.2,822.38 449.79,823.38 C452.38,824.38 454.96,825.35 457.55,826.29 C460.14,827.23 462.73,828.14 465.31,829.03 C467.9,829.91 470.49,830.77 473.07,831.62 C475.66,832.46 478.25,833.29 480.84,834.1 C483.42,834.91 486.01,835.7 488.6,836.47 C491.19,837.25 493.78,838.02 496.36,838.77 C498.95,839.53 501.54,840.27 504.12,841.01 C506.71,841.75 509.3,842.47 511.89,843.19 C514.48,843.91 517.06,844.63 519.65,845.33 C522.24,846.04 524.83,846.74 527.41,847.44 C530,848.14 532.59,848.83 535.17,849.52 C537.76,850.21 540.35,850.9 542.94,851.58 C545.52,852.26 548.11,852.94 550.7,853.62 C553.29,854.3 555.88,854.97 558.46,855.65 C561.05,856.32 563.64,856.99 566.23,857.66 C568.81,858.32 571.4,858.99 573.99,859.65 C576.57,860.32 579.16,860.98 581.75,861.64 C584.34,862.3 586.93,862.95 589.51,863.61 C592.1,864.26 594.69,864.92 597.27,865.57 C599.86,866.22 602.45,866.87 605.04,867.51 C607.62,868.16 610.21,868.81 612.8,869.45 C615.39,870.09 617.98,870.74 620.56,871.38 C623.15,872.02 625.74,872.66 628.33,873.3 C630.91,873.94 633.5,874.58 636.09,875.22 C638.67,875.86 641.26,876.5 643.85,877.14 C646.44,877.79 649.02,878.43 651.61,879.08 C654.2,879.73 656.79,880.38 659.38,881.03 C661.96,881.69 664.55,882.35 667.14,883.02 C669.73,883.69 672.31,884.36 674.9,885.05 C677.49,885.73 680.08,886.43 682.66,887.14 C685.25,887.85 687.84,888.57 690.42,889.31 C693.01,890.05 695.6,890.8 698.19,891.58 C700.77,892.36 703.36,893.15 705.95,893.98 C708.54,894.8 711.13,895.65 713.71,896.53 C716.3,897.41 718.89,898.32 721.48,899.27 C724.06,900.22 726.65,901.2 729.24,902.24 C731.82,903.27 735.71,904.93 737,905.47" class="oc"/>
<line x1="474" y1="850.5" x2="551" y2="865.4" class="bl dash"/>
<line x1="551" y1="865.4" x2="702" y2="896.4" class="bl"/>
<line x1="702" y1="896.4" x2="733" y2="902.4" class="bl dash" style="stroke-dasharray:11.5 2.4 3.4 7.9 30;"/>
<rect x="421.75" y="805.95" width="9.1" height="9.1" class="sq"/>
<rect x="499.25" y="833.75" width="9.1" height="9.1" class="sq"/>
<rect x="577.05" y="858.85" width="9.1" height="9.1" class="sq"/>
<rect x="654.75" y="874.55" width="9.1" height="9.1" class="sq"/>
<rect x="732.45" y="900.95" width="9.1" height="9.1" class="sq"/>
<path d="M426.3,812.2 L432.2,823.7 L420.4,823.7 Z" fill="#3461B8"/>
<path d="M540.1,865.3 H562.4 M540.1,860.5 V870.1 M562.4,860.5 V870.1" class="eb"/>
<path d="M551.6,859.6 V871.3 M546.6,859.6 H556.6 M546.6,871.3 H556.6" class="eb"/>
<circle cx="551" cy="865.4" r="4.4" fill="#fff" stroke="#000" stroke-width="1.75"/>
<circle cx="632.8" cy="884" r="4.55" fill="#fff" stroke="#00B0F0" stroke-width="1.8"/>
<circle cx="702" cy="896.2" r="5.5" fill="#000"/>
<g transform="translate(562,834.7) scale(1)"><path d="M10.3,-10.4 C10.3,-11.7 8.5,-12.4 7.3,-10.5 C6.3,-8.8 4.3,-1.6 3.0,1.6 C2.3,3.3 1.1,3.9 0.5,3.0 M4.0,-6.9 H7.5" fill="none" stroke="#ED7D31" stroke-width="1.35" stroke-linecap="round"/><circle cx="10.25" cy="-10.35" r="0.95" fill="#ED7D31"/><circle cx="0.7" cy="2.85" r="0.9" fill="#ED7D31"/></g>
<g fill="#ED7D31">
<text x="573" y="827.5" class="se" style="font-size:16.3px">Ti</text>
<text x="573" y="840.7" class="se" style="font-size:16.3px">Mo</text>
<text x="599.5" y="834.7" class="sa" style="font-size:16.4px">= 0</text>
</g>
<g transform="translate(550.5,902.2) scale(1)"><path d="M10.3,-10.4 C10.3,-11.7 8.5,-12.4 7.3,-10.5 C6.3,-8.8 4.3,-1.6 3.0,1.6 C2.3,3.3 1.1,3.9 0.5,3.0 M4.0,-6.9 H7.5" fill="none" stroke="#000" stroke-width="1.35" stroke-linecap="round"/><circle cx="10.25" cy="-10.35" r="0.95" fill="#000"/><circle cx="0.7" cy="2.85" r="0.9" fill="#000"/></g>
<g fill="#000">
<text x="561.5" y="895" class="se" style="font-size:16.3px">Ti</text>
<text x="561.5" y="908.2" class="se" style="font-size:16.3px">Mo</text>
<text x="588.3" y="902.2" class="sa" style="font-size:16.4px">= 0</text>
</g>
</svg></body></html>
